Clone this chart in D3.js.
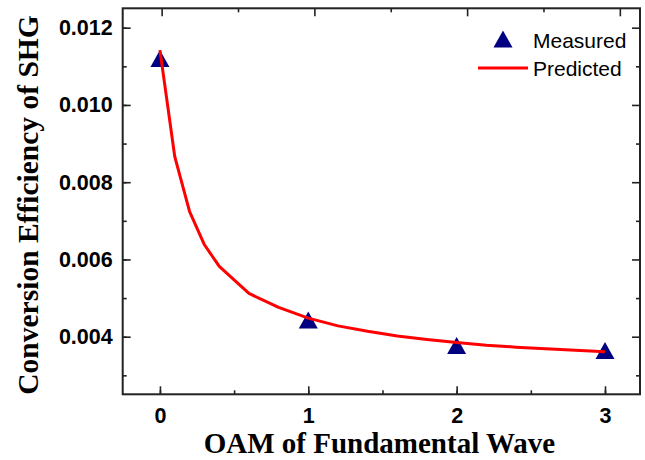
<!DOCTYPE html>
<html>
<head>
<meta charset="utf-8">
<script src="https://cdn.jsdelivr.net/npm/d3@7"></script>
<style>
  body { margin: 0; background: #fff; }
  .tick text { font-family: "Liberation Sans", Arial, sans-serif; font-weight: bold; font-size: 21.5px; fill: #000; }
  .axis path, .axis line { stroke: #222; }
</style>
</head>
<body>
<div id="chart"></div>
<script>
// measured points
var oam = [0, 1, 2, 3];
var measured = [0.0112, 0.00443, 0.00377, 0.00364];

// predicted curve
var predX = [0, 0.1, 0.2, 0.3, 0.4, 0.6, 0.8, 1.0, 1.2, 1.4, 1.6, 1.8, 2.0, 2.2, 2.4, 2.6, 2.8, 3.0];
var predY = [0.01142, 0.00866, 0.00724, 0.00638, 0.00582, 0.00512, 0.00476, 0.00448, 0.00428,
             0.00414, 0.00402, 0.00393, 0.00385, 0.00378, 0.00373, 0.00369, 0.00365, 0.00361];

var xTicks = [0, 1, 2, 3];
var xMinor = [0, 0.5, 1, 1.5, 2, 2.5, 3];
var yTicks = [0.004, 0.006, 0.008, 0.010, 0.012];
var yMinor = [0.003, 0.004, 0.005, 0.006, 0.007, 0.008, 0.009, 0.010, 0.011, 0.012];

var svgWidth = 645, svgHeight = 460;
var margin = { top: 8.3, right: 5, bottom: 65.7, left: 122.7 };
var width = svgWidth - margin.left - margin.right;
var height = svgHeight - margin.top - margin.bottom;

var svg = d3.select("#chart").append("svg")
  .attr("width", svgWidth)
  .attr("height", svgHeight);

var g = svg.append("g")
  .attr("transform", `translate(${margin.left}, ${margin.top})`);

var x = d3.scaleLinear().domain([-0.251, 3.236]).range([0, width]);
// top axis ticks in the original are spaced a bit wider than the bottom ones
var xTop = d3.scaleLinear().domain([-0.255, 3.132]).range([0, width]);
var y = d3.scaleLinear().domain([0.002509, 0.012502]).range([height, 0]);

// minor ticks (inward)
function minor(axis, vals) {
  return axis.tickValues(vals).tickSize(-4).tickFormat("");
}

g.append("g").attr("class", "axis")
  .attr("transform", `translate(0, ${height})`)
  .call(minor(d3.axisBottom(x), xMinor))
  .call(a => a.select(".domain").remove());
g.append("g").attr("class", "axis")
  .attr("transform", `translate(0, ${height})`)
  .call(d3.axisBottom(x).tickValues(xTicks).tickSize(-8).tickPadding(13).tickFormat(d3.format("d")))
  .call(a => a.select(".domain").remove());

g.append("g").attr("class", "axis")
  .call(minor(d3.axisTop(xTop), xMinor))
  .call(a => a.select(".domain").remove())
  .selectAll(".tick line").attr("y2", d => xMinor.indexOf(d) % 2 === 0 ? 8 : 4);

g.append("g").attr("class", "axis")
  .call(minor(d3.axisLeft(y), yMinor))
  .call(a => a.select(".domain").remove());
g.append("g").attr("class", "axis")
  .call(d3.axisLeft(y).tickValues(yTicks).tickSize(-8).tickPadding(10).tickFormat(d3.format(".3f")))
  .call(a => a.select(".domain").remove());

g.append("g").attr("class", "axis")
  .attr("transform", `translate(${width}, 0)`)
  .call(minor(d3.axisRight(y), yMinor))
  .call(a => a.select(".domain").remove())
  .selectAll(".tick line").attr("x2", d => yTicks.some(t => Math.abs(t - d) < 1e-9) ? -8 : -4);

g.selectAll(".axis .tick line").attr("stroke-width", 1.6);

// frame
g.append("rect")
  .attr("width", width)
  .attr("height", height)
  .attr("fill", "none")
  .attr("stroke", "#222")
  .attr("stroke-width", 2);

// predicted curve
var line = d3.line()
  .x((d, i) => x(predX[i]))
  .y(d => y(d));

// triangles
var tri = "M0,-8.5L9.5,8.5L-9.5,8.5Z";
g.selectAll(".pt")
  .data(measured)
  .enter()
  .append("path")
  .attr("class", "pt")
  .attr("d", tri)
  .attr("fill", "#000080")
  .attr("transform", (d, i) => `translate(${x(oam[i])}, ${y(d)})`);

// curve drawn over the markers, like the original
g.append("path")
  .datum(predY)
  .attr("d", line)
  .attr("fill", "none")
  .attr("stroke", "#ff0000")
  .attr("stroke-width", 3)
  .attr("stroke-linejoin", "round");

// legend
var legend = svg.append("g").attr("transform", "translate(478, 0)");
legend.append("path")
  .attr("d", tri)
  .attr("fill", "#000080")
  .attr("transform", "translate(25, 39)");
legend.append("line")
  .attr("x1", 0).attr("x2", 50)
  .attr("y1", 68).attr("y2", 68)
  .attr("stroke", "#ff0000")
  .attr("stroke-width", 3);
legend.selectAll(".ltext")
  .data(["Measured", "Predicted"])
  .enter()
  .append("text")
  .attr("x", 55)
  .attr("y", (d, i) => 48 + i * 27.5)
  .style("font-family", "'Liberation Sans', Arial, sans-serif")
  .style("font-size", "21px")
  .text(d => d);

// axis titles
svg.append("text")
  .attr("x", margin.left + x(1.5) - 3)
  .attr("y", 453)
  .style("text-anchor", "middle")
  .style("font-family", "'Liberation Serif', 'Times New Roman', serif")
  .style("font-weight", "bold")
  .style("font-size", "29px")
  .text("OAM of Fundamental Wave");

svg.append("text")
  .attr("transform", "translate(38, 205) rotate(-90)")
  .style("text-anchor", "middle")
  .style("font-family", "'Liberation Serif', 'Times New Roman', serif")
  .style("font-weight", "bold")
  .style("font-size", "29.5px")
  .text("Conversion Efficiency of SHG");
</script>
</body>
</html>
